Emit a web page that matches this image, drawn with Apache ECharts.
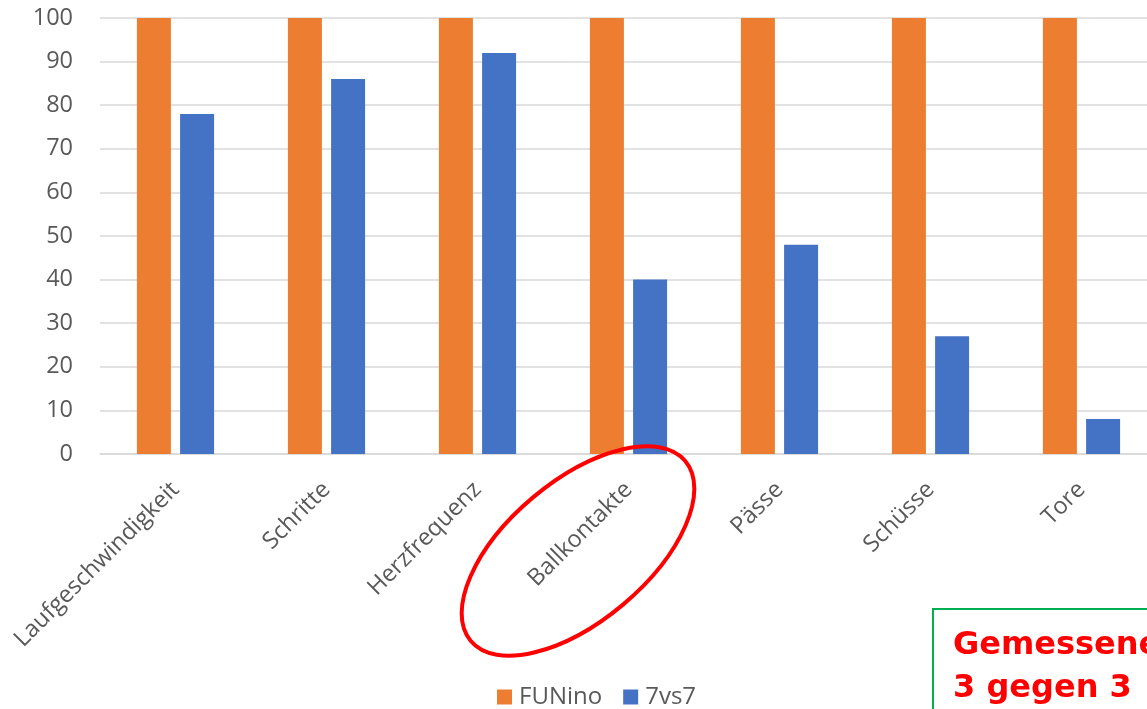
<!DOCTYPE html>
<html>
<head>
<meta charset="utf-8">
<script src="https://cdn.jsdelivr.net/npm/echarts@6/dist/echarts.min.js"></script>
<style>html,body{margin:0;padding:0;background:#fff}#c{width:1147px;height:709px}</style>
</head>
<body>
<div id="c"></div>
<script>
const categories = ['Laufgeschwindigkeit', 'Schritte', 'Herzfrequenz', 'Ballkontakte', 'Pässe', 'Schüsse', 'Tore'];
const funinoValues = [100, 100, 100, 100, 100, 100, 100];
const sevenValues = [78, 86, 92, 40, 48, 27, 8];
const seriesNames = ['FUNino', '7vs7'];
const boxLines = ['Gemessene Werte', '3 gegen 3'];

const chart = echarts.init(document.getElementById('c'), null, {renderer: 'canvas'});
const font = '"Open Sans", "Noto Sans", sans-serif';
chart.setOption({
  animation: false,
  backgroundColor: '#ffffff',
  grid: {left: 100, top: 18, width: 1057, bottom: 255, containLabel: false, outerBoundsMode: 'none'},
  legend: {
    data: seriesNames,
    left: 497, top: 685, padding: 0,
    itemWidth: 15, itemHeight: 15, itemGap: 21,
    icon: 'rect',
    textStyle: {color: '#595959', fontSize: 24, fontFamily: font, padding: [0,0,0,2]}
  },
  xAxis: {
    type: 'category',
    data: categories,
    axisLine: {lineStyle: {color: '#d9d9d9', width: 1.5}},
    axisTick: {show: false},
    axisLabel: {rotate: 45, color: '#595959', fontSize: 23.5, fontFamily: font, margin: 32, interval: 0}
  },
  yAxis: {
    type: 'value', min: 0, max: 100, interval: 10,
    axisLine: {show: false}, axisTick: {show: false},
    splitLine: {lineStyle: {color: '#d9d9d9', width: 1.5}},
    axisLabel: {color: '#595959', fontSize: 23.5, fontFamily: font, margin: 27}
  },
  series: [
    {name: seriesNames[0], type: 'bar', data: funinoValues, barWidth: 34, barGap: '27%', itemStyle: {color: '#ED7D31'}},
    {name: seriesNames[1], type: 'bar', data: sevenValues, barWidth: 34, itemStyle: {color: '#4472C4'}}
  ],
  graphic: [
    {type: 'ellipse', x: 578, y: 551, rotation: 40 * Math.PI / 180,
     shape: {cx: 0, cy: 0, rx: 140, ry: 70},
     style: {fill: 'none', stroke: '#ff0000', lineWidth: 4}, z: 100},
    {type: 'rect', shape: {x: 933, y: 609, width: 400, height: 200},
     style: {fill: '#ffffff', stroke: '#00B050', lineWidth: 2}, z: 100},
    {type: 'text', x: 953, y: 630, z: 101,
     style: {text: boxLines[0], fill: '#ff0000', font: 'bold 32px "DejaVu Sans", Verdana, sans-serif'}},
    {type: 'text', x: 953, y: 673, z: 101,
     style: {text: boxLines[1], fill: '#ff0000', font: 'bold 32px "DejaVu Sans", Verdana, sans-serif'}}
  ]
});
</script>
</body>
</html>
